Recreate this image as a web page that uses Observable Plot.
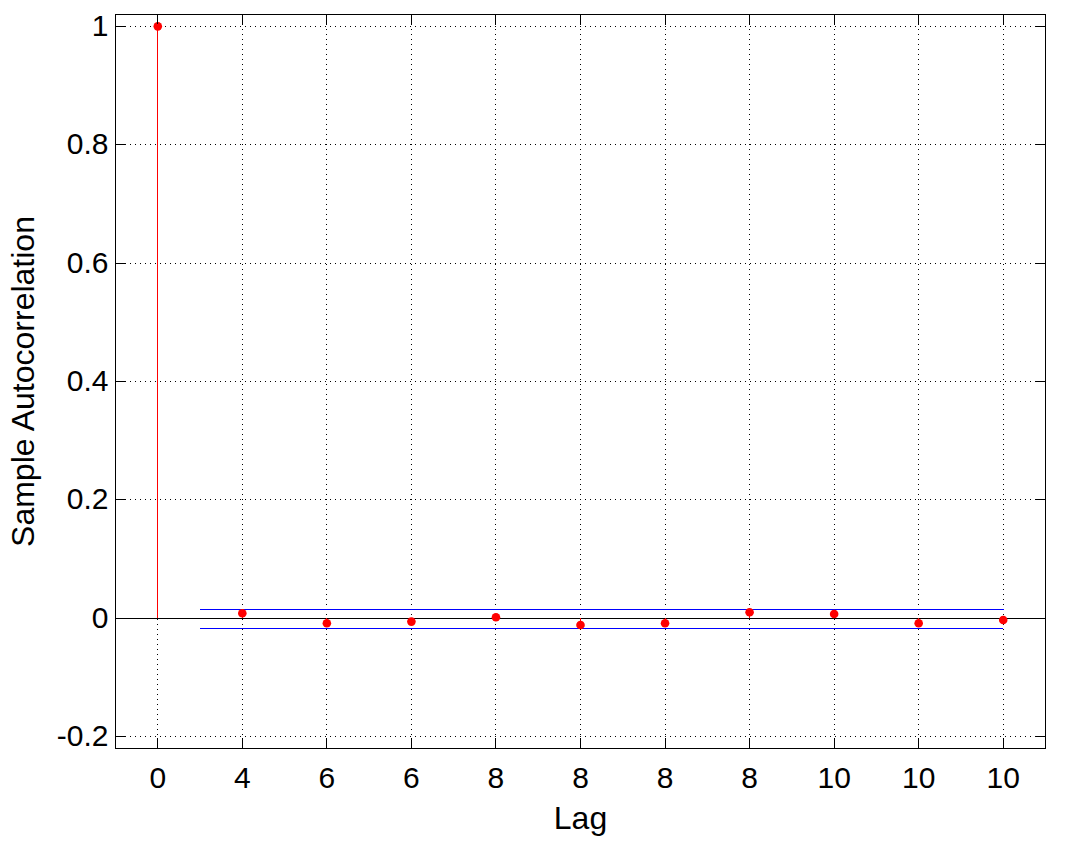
<!DOCTYPE html>
<html>
<head>
<meta charset="utf-8">
<script src="https://cdn.jsdelivr.net/npm/d3@7"></script>
<script src="https://cdn.jsdelivr.net/npm/@observablehq/plot@0.6"></script>
<style>
  html, body { margin: 0; padding: 0; background: #fff; }
</style>
</head>
<body>
<div id="chart"></div>
<script>
// Data
const lags = [0, 1, 2, 3, 4, 5, 6, 7, 8, 9, 10];
const acf = [1, 0.0084, -0.0084, -0.0056, 0.0017, -0.0113, -0.0084, 0.0101, 0.0073, -0.0084, -0.0028];
const xTickLabels = ["0", "4", "6", "6", "8", "8", "8", "8", "10", "10", "10"];
const yTicks = [-0.2, 0, 0.2, 0.4, 0.6, 0.8, 1];
const yTickLabels = ["-0.2", "0", "0.2", "0.4", "0.6", "0.8", "1"];
const boundLags = [0.5, 10];
const upperBound = [0.0155, 0.0155];
const lowerBound = [-0.0165, -0.0165];
const xLabel = "Lag";
const yLabel = "Sample Autocorrelation";

const points = lags.map((l, i) => ({lag: l, acf: acf[i]}));
const upper = boundLags.map((l, i) => ({lag: l, v: upperBound[i]}));
const lower = boundLags.map((l, i) => ({lag: l, v: lowerBound[i]}));

const W = 1069, H = 846;
const mL = 115, mR = 24, mT = 14, mB = 98;
const innerW = W - mL - mR, innerH = H - mT - mB;
const tickLen = 10;
const font = "'Liberation Sans', Arial, Helvetica, sans-serif";
const crisp = "crispEdges";

const chart = Plot.plot({
  width: W,
  height: H,
  marginLeft: mL,
  marginRight: mR,
  marginTop: mT,
  marginBottom: mB,
  style: {fontFamily: font, background: "#fff", color: "#000"},
  x: {domain: [-0.5, 10.5], ticks: lags, tickFormat: i => xTickLabels[i]},
  y: {domain: [-0.22, 1.02], ticks: yTicks, tickFormat: d => yTickLabels[yTicks.indexOf(d)]},
  marks: [
    // dotted grid
    Plot.ruleX(lags, {x: d => d, stroke: "#000", strokeDasharray: "1,4", strokeWidth: 1, shapeRendering: crisp}),
    Plot.ruleY(yTicks, {y: d => d, stroke: "#000", strokeDasharray: "1,4", strokeWidth: 1, shapeRendering: crisp}),
    // zero line
    Plot.ruleY([0], {stroke: "#000", strokeWidth: 1, shapeRendering: crisp}),
    // confidence bounds
    Plot.line(upper, {x: "lag", y: "v", stroke: "#0000ff", strokeWidth: 1, shapeRendering: crisp}),
    Plot.line(lower, {x: "lag", y: "v", stroke: "#0000ff", strokeWidth: 1, shapeRendering: crisp}),
    // stems
    Plot.ruleX(points, {x: "lag", y1: 0, y2: "acf", stroke: "#ff0000", strokeWidth: 1, shapeRendering: crisp}),
    // markers
    Plot.dot(points, {x: "lag", y: "acf", r: 4.3, fill: "#ff0000", stroke: null}),
    // frame
    Plot.frame({stroke: "#000", strokeWidth: 1, shapeRendering: crisp}),
    // inward ticks on all four sides
    Plot.ruleX(lags, {x: d => d, insetTop: innerH - tickLen, stroke: "#000", shapeRendering: crisp}),
    Plot.ruleX(lags, {x: d => d, insetBottom: innerH - tickLen, stroke: "#000", shapeRendering: crisp}),
    Plot.ruleY(yTicks, {y: d => d, insetRight: innerW - tickLen, stroke: "#000", shapeRendering: crisp}),
    Plot.ruleY(yTicks, {y: d => d, insetLeft: innerW - tickLen, stroke: "#000", shapeRendering: crisp}),
    // axes (labels only)
    Plot.axisX({ticks: lags, tickSize: 0, tickPadding: 18, fontSize: 30, label: null, tickFormat: i => xTickLabels[i]}),
    Plot.axisY({ticks: yTicks, tickSize: 0, tickPadding: 7, fontSize: 30, label: null, tickFormat: d => yTickLabels[yTicks.indexOf(d)]}),
    // axis titles
    Plot.text([xLabel], {text: d => d, frameAnchor: "bottom", dy: 70, lineAnchor: "middle", textAnchor: "middle", fontSize: 32, fill: "#000"}),
    Plot.text([yLabel], {text: d => d, frameAnchor: "left", dx: -92, rotate: -90, lineAnchor: "middle", textAnchor: "middle", fontSize: 32, fill: "#000"})
  ]
});
document.getElementById("chart").appendChild(chart);
</script>
</body>
</html>
